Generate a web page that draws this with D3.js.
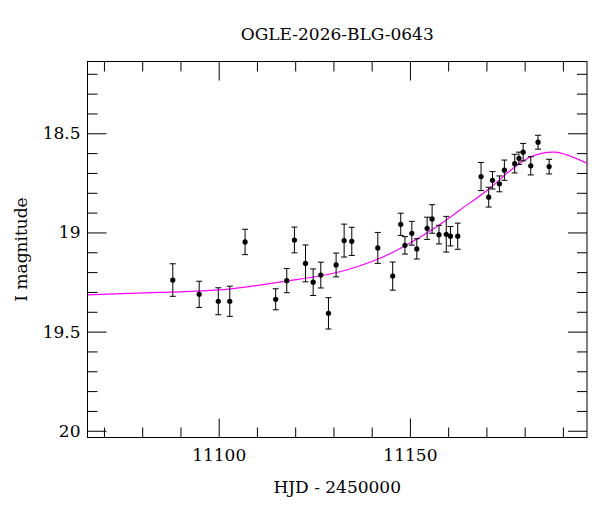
<!DOCTYPE html>
<html>
<head>
<meta charset="utf-8">
<script src="https://cdn.jsdelivr.net/npm/d3@7"></script>
<style>
  body { margin: 0; background: #fff; }
  svg text { font-family: "DejaVu Serif", serif; fill: #000; }
</style>
</head>
<body>
<div id="chart"></div>
<script>
const title = 'OGLE-2026-BLG-0643';

// photometry (HJD - 2450000, I mag, error)
const days = [11088.0, 11094.9, 11099.9, 11102.9, 11106.9, 11114.9, 11117.8, 11119.8, 11122.7, 11124.7,
  11126.7, 11128.7, 11130.7, 11132.8, 11134.8, 11141.6, 11145.5, 11147.6, 11148.7, 11150.5,
  11151.8, 11154.5, 11155.8, 11157.6, 11159.5, 11160.6, 11162.5, 11168.6, 11170.6, 11171.6,
  11173.4, 11174.7, 11177.4, 11178.5, 11179.6, 11181.6, 11183.5, 11186.4];
const mags = [19.240, 19.312, 19.347, 19.347, 19.048, 19.337, 19.243, 19.038, 19.156, 19.251,
  19.215, 19.408, 19.164, 19.041, 19.045, 19.078, 19.220, 18.959, 19.065, 19.004,
  19.083, 18.979, 18.932, 19.011, 19.009, 19.019, 19.019, 18.718, 18.822, 18.737,
  18.755, 18.686, 18.653, 18.626, 18.595, 18.664, 18.545, 18.668];
const errs = [0.082, 0.066, 0.068, 0.076, 0.064, 0.053, 0.061, 0.065, 0.093, 0.067,
  0.065, 0.079, 0.060, 0.083, 0.071, 0.078, 0.071, 0.056, 0.044, 0.060,
  0.051, 0.056, 0.072, 0.047, 0.090, 0.049, 0.066, 0.071, 0.050, 0.044,
  0.040, 0.051, 0.047, 0.031, 0.044, 0.046, 0.035, 0.037];

// model curve
const modelDays = [11065.7, 11084.7, 11100, 11117.8, 11131.7, 11141.7, 11148.3, 11157, 11163.1, 11170.9, 11176.1, 11181.4, 11187.9, 11196.3];
const modelMags = [19.315, 19.302, 19.29, 19.245, 19.198, 19.134, 19.072, 18.971, 18.887, 18.777, 18.69, 18.62, 18.595, 18.651];

const xMajor = [11100, 11150];
const xMinor = [11070, 11080, 11090, 11110, 11120, 11130, 11140, 11160, 11170, 11180, 11190];
const yMajor = [18.5, 19, 19.5, 20];
const yMinor = [18.2, 18.3, 18.4, 18.6, 18.7, 18.8, 18.9, 19.1, 19.2, 19.3, 19.4, 19.6, 19.7, 19.8, 19.9];

const W = 600, H = 512;
const L = 87.5, R = 587, T = 61.5, B = 437.5;

const svg = d3.select('#chart').append('svg').attr('width', W).attr('height', H);

const x = d3.scaleLinear().domain([11065.7, 11196.3]).range([L, R]);
const y = d3.scaleLinear().domain([18.138, 20.034]).range([T, B]);

svg.append('defs').append('clipPath').attr('id', 'clip')
  .append('rect').attr('x', L).attr('y', T).attr('width', R - L).attr('height', B - T);

function addAxis(axis, tx, ty, vals, size, labels, pad) {
  const g = svg.append('g').attr('transform', `translate(${tx},${ty})`)
    .call(axis.tickValues(vals).tickSize(-size).tickPadding(pad || 3).tickFormat(labels ? (d => String(d)) : ''));
  g.select('.domain').remove();
  g.selectAll('line').attr('stroke', '#000');
  g.selectAll('text').attr('font-size', 17).attr('font-family', '"DejaVu Serif", serif').attr('fill', '#000');
  return g;
}

addAxis(d3.axisBottom(x), 0, B, xMajor, 19, true, 11);
addAxis(d3.axisBottom(x), 0, B, xMinor, 10, false);
addAxis(d3.axisTop(x), 0, T, xMajor, 19, false);
addAxis(d3.axisTop(x), 0, T, xMinor, 10, false);
addAxis(d3.axisLeft(y), L, 0, yMajor, 19, true, 7);
addAxis(d3.axisLeft(y), L, 0, yMinor, 10, false);
addAxis(d3.axisRight(y), R, 0, yMajor, 19, false);
addAxis(d3.axisRight(y), R, 0, yMinor, 10, false);

svg.append('rect').attr('x', L).attr('y', T).attr('width', R - L).attr('height', B - T)
  .attr('fill', 'none').attr('stroke', '#000').attr('stroke-width', 1);

const model = modelDays.map((d, i) => [d, modelMags[i]]);
svg.append('path').datum(model)
  .attr('clip-path', 'url(#clip)')
  .attr('fill', 'none').attr('stroke', '#ff00ff').attr('stroke-width', 1.2)
  .attr('d', d3.line().x(d => x(d[0])).y(d => y(d[1])).curve(d3.curveCatmullRom.alpha(0.5)));

const pts = days.map((d, i) => ({ t: d, m: mags[i], e: errs[i] }));
const gp = svg.append('g').attr('stroke', '#000').attr('stroke-width', 1);
pts.forEach(p => {
  const cx = x(p.t), y0 = y(p.m - p.e), y1 = y(p.m + p.e);
  gp.append('line').attr('x1', cx).attr('x2', cx).attr('y1', y0).attr('y2', y1);
  gp.append('line').attr('x1', cx - 3).attr('x2', cx + 3).attr('y1', y0).attr('y2', y0);
  gp.append('line').attr('x1', cx - 3).attr('x2', cx + 3).attr('y1', y1).attr('y2', y1);
});
svg.append('g').selectAll('circle').data(pts).enter().append('circle')
  .attr('cx', d => x(d.t)).attr('cy', d => y(d.m)).attr('r', 2.6).attr('fill', '#000');

svg.append('text').attr('x', (L + R) / 2).attr('y', 40).attr('text-anchor', 'middle')
  .attr('font-size', 17).text(title);
svg.append('text').attr('x', (L + R) / 2).attr('y', 493).attr('text-anchor', 'middle')
  .attr('font-size', 17).text('HJD - 2450000');
svg.append('text').attr('transform', `translate(27,${(T + B) / 2}) rotate(-90)`).attr('text-anchor', 'middle')
  .attr('font-size', 17).text('I magnitude');
</script>
</body>
</html>
